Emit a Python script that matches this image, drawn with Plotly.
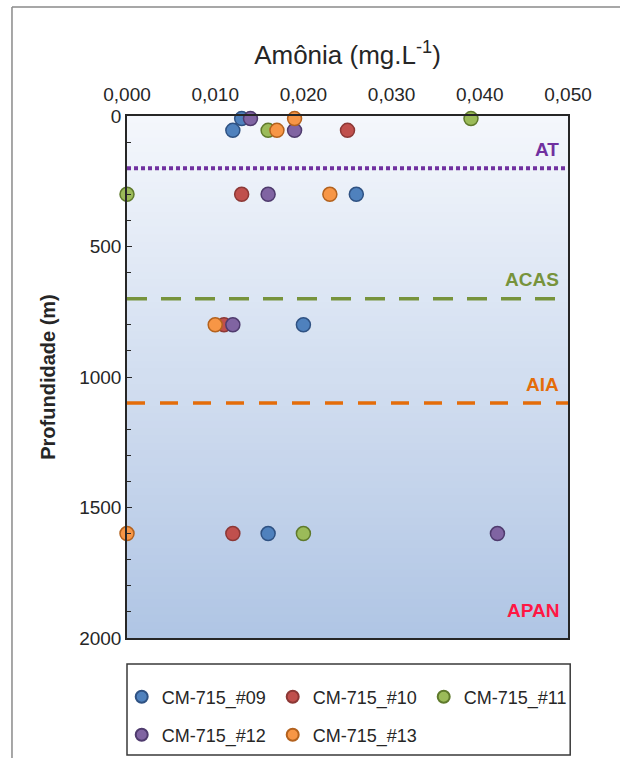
import plotly.graph_objects as go

# ---------------- data ----------------
stations = ["CM-715_#09", "CM-715_#10", "CM-715_#11", "CM-715_#12", "CM-715_#13"]

depth_09 = [10, 55, 300, 800, 1600]
amonia_09 = [0.013, 0.012, 0.026, 0.020, 0.016]

depth_10 = [55, 300, 800, 1600]
amonia_10 = [0.025, 0.013, 0.011, 0.012]

depth_11 = [10, 55, 300, 1600]
amonia_11 = [0.039, 0.016, 0.000, 0.020]

depth_12 = [10, 55, 300, 800, 1600]
amonia_12 = [0.014, 0.019, 0.016, 0.012, 0.042]

depth_13 = [10, 55, 300, 800, 1600]
amonia_13 = [0.019, 0.017, 0.023, 0.010, 0.000]

water_masses = ["AT", "ACAS", "AIA", "APAN"]
mass_boundaries = [200, 700, 1100]  # lower limit (m) of AT, ACAS, AIA

x_ticks = [0.000, 0.010, 0.020, 0.030, 0.040, 0.050]
y_ticks = [0, 500, 1000, 1500, 2000]

# ---------------- style ----------------
FONT = "Liberation Sans, Arial, sans-serif"
fills = ["#4F81BD", "#C0504D", "#9BBB59", "#8064A2", "#F79646"]
edges = ["#2F5283", "#8C3836", "#5F7A2C", "#4F3B6E", "#B3621E"]
mass_colors = ["#7030A0", "#77933C", "#E46C0A", "#FF1744"]
mass_dash = ["4px,3px", "20px,14px", "18px,15px"]
mass_width = [4, 3.5, 3.5]
legend_of = ["legend", "legend", "legend", "legend2", "legend2"]

series = [
    (depth_09, amonia_09),
    (depth_10, amonia_10),
    (depth_11, amonia_11),
    (depth_12, amonia_12),
    (depth_13, amonia_13),
]

fig = go.Figure()
for name, (d, a), fc, ec, lg in zip(stations, series, fills, edges, legend_of):
    fig.add_trace(go.Scatter(
        x=a, y=d, mode="markers", name=name, legend=lg,
        marker=dict(size=14, color=fc, line=dict(color=ec, width=1.5)),
        cliponaxis=False,
    ))

shapes = []
# gradient plot background
N = 70
top_c = (244, 247, 252)
bot_c = (176, 197, 228)
for i in range(N):
    t = (i + 0.5) / N
    c = tuple(int(round(top_c[k] + (bot_c[k] - top_c[k]) * t)) for k in range(3))
    shapes.append(dict(type="rect", xref="paper", yref="paper",
                       x0=0, x1=1, y0=1 - (i + 1) / N, y1=1 - i / N + 0.002,
                       fillcolor="rgb(%d,%d,%d)" % c, line=dict(width=0),
                       layer="below"))

# water-mass boundaries
for yb, col, dash, w in zip(mass_boundaries, mass_colors, mass_dash, mass_width):
    shapes.append(dict(type="line", xref="paper", yref="y", x0=0, x1=1,
                       y0=yb, y1=yb, line=dict(color=col, width=w, dash=dash)))

# legend frame
shapes.append(dict(type="rect", xref="paper", yref="paper",
                   x0=0, x1=1.005, y0=-0.2241, y1=-0.0498,
                   line=dict(color="#3a3a3a", width=1.5), fillcolor="rgba(0,0,0,0)"))
# outer figure frame (top and left edges visible)
shapes.append(dict(type="line", xref="paper", yref="paper",
                   x0=-0.2608, x1=1.118, y0=1.2088, y1=1.2088,
                   line=dict(color="#8a8a8a", width=1.5)))
shapes.append(dict(type="line", xref="paper", yref="paper",
                   x0=-0.2608, x1=-0.2608, y0=-0.3, y1=1.2088,
                   line=dict(color="#8a8a8a", width=1.5)))

annotations = []
label_depths = [b - 72 for b in mass_boundaries] + [1895]
for name, yl, col in zip(water_masses, label_depths, mass_colors):
    annotations.append(dict(text="<b>%s</b>" % name, xref="paper", yref="y",
                            x=0.984, y=yl, xanchor="right", yanchor="middle",
                            showarrow=False,
                            font=dict(family=FONT, size=19, color=col)))

fig.update_layout(
    width=620, height=758,
    margin=dict(l=127, r=52, t=116, b=120, autoexpand=False),
    paper_bgcolor="white",
    plot_bgcolor="rgb(176,197,228)",
    separators=",.",
    font=dict(family=FONT, color="#262626"),
    shapes=shapes,
    annotations=annotations,
    xaxis=dict(
        side="top", range=[0, 0.05], tickvals=x_ticks, tickformat=".3f",
        showgrid=False, zeroline=False, showline=True, mirror=True,
        linecolor="#262626", linewidth=1.5, ticks="",
        tickfont=dict(size=19, color="#262626"), ticklabelstandoff=6,
        title=dict(text="Amônia (mg.L<sup>-1</sup>)",
                   font=dict(size=26, color="#262626"), standoff=12),
    ),
    yaxis=dict(
        range=[2000, 0], tickvals=y_ticks, showgrid=False, zeroline=False,
        showline=True, mirror=True, linecolor="#262626", linewidth=1.5,
        ticks="inside", ticklen=5, tickcolor="#262626",
        minor=dict(dtick=100, ticks="inside", ticklen=4, tickcolor="#262626"),
        tickfont=dict(size=19, color="#262626"),
        title=dict(text="<b>Profundidade (m)</b>",
                   font=dict(size=20, color="#262626"), standoff=18),
    ),
    legend=dict(orientation="h", x=-0.012, xanchor="left", y=-0.113,
                yanchor="middle", entrywidth=106, itemsizing="constant",
                bgcolor="rgba(0,0,0,0)", font=dict(family=FONT, size=18, color="#262626")),
    legend2=dict(orientation="h", x=-0.012, xanchor="left", y=-0.186,
                 yanchor="middle", entrywidth=106, itemsizing="constant",
                 bgcolor="rgba(0,0,0,0)", font=dict(family=FONT, size=18, color="#262626")),
    showlegend=True,
)

fig.write_html("out.html", config={"displayModeBar": False})
